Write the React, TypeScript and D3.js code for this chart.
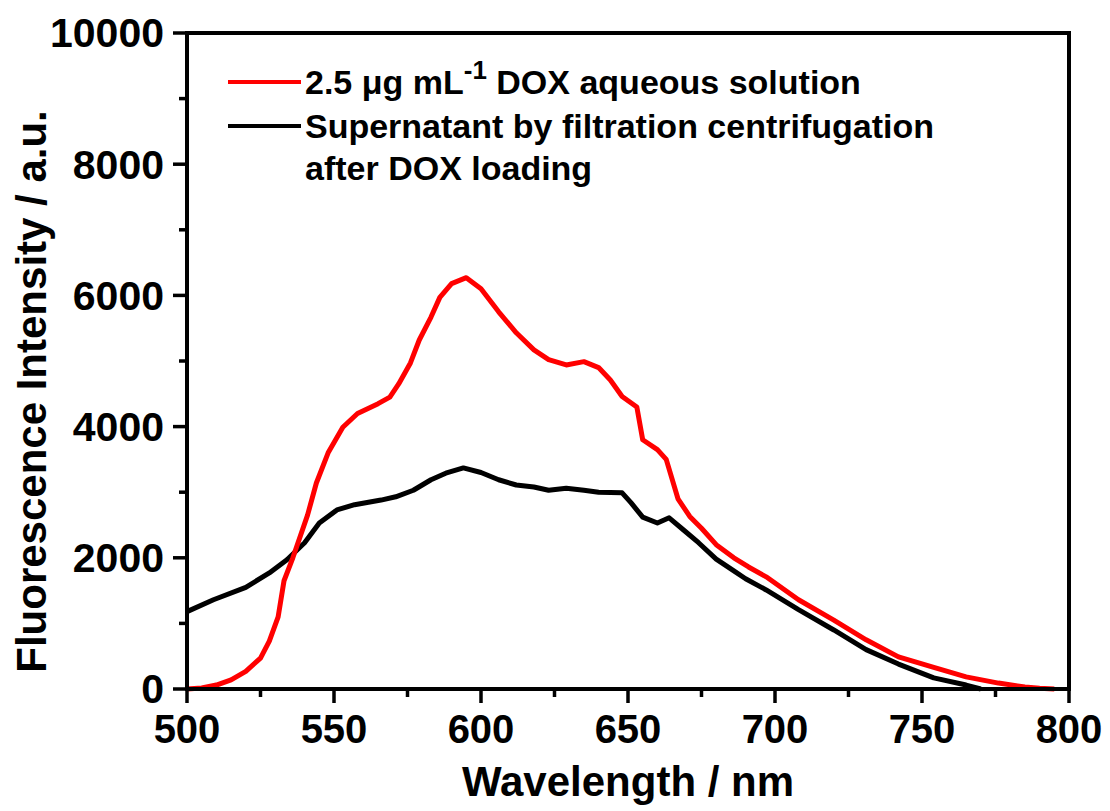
import React from "react";
import * as d3 from "d3";

const redWavelengths = [500,505,510,515,520,525,528,531,533,536,541,544,548,553,558,565,569,572,576,579,583,586,590,595,600,606,612,618,623,629,635,640,644,648,653,655,660,663,667,671,675,680,686,691,697,708,720,731,742,754,765,776,785,790,795];
const redIntensity = [0,15,60,140,270,470,730,1100,1650,2000,2650,3140,3600,3990,4200,4350,4450,4650,4970,5320,5670,5970,6180,6270,6100,5750,5430,5170,5020,4940,4990,4900,4710,4460,4300,3800,3650,3500,2900,2630,2450,2200,2000,1860,1710,1360,1050,750,490,330,185,90,30,10,0];

const blackWavelengths = [500,509,520,528,534,540,545,551,557,566,571,577,583,588,594,600,606,612,618,623,629,635,640,648,651,655,660,664,669,674,680,686,690,697,708,720,731,742,754,765,770];
const blackIntensity = [1180,1360,1550,1770,1970,2230,2530,2730,2810,2880,2930,3030,3190,3290,3370,3300,3190,3110,3080,3030,3060,3030,3000,2990,2840,2620,2530,2610,2420,2230,1980,1800,1680,1510,1210,900,600,380,170,60,0];

const xMajorTicks = [500,550,600,650,700,750,800];
const xMinorTicks = [525,575,625,675,725,775];
const yMajorTicks = [0,2000,4000,6000,8000,10000];
const yMinorTicks = [1000,3000,5000,7000,9000];

const legendLabels = ["2.5 \u03bcg mL", "Supernatant by filtration centrifugation", "after DOX loading"];

const FONT = "'Liberation Sans', Arial, Helvetica, sans-serif";

export default function App() {
  const left = 187, right = 1069, top = 33, bottom = 689;
  const x = d3.scaleLinear().domain([500, 800]).range([left, right]);
  const y = d3.scaleLinear().domain([0, 10000]).range([bottom, top]);
  const line = d3.line<[number, number]>().x(d => x(d[0])).y(d => y(d[1]));
  const redPts = redWavelengths.map((w, i) => [w, redIntensity[i]] as [number, number]);
  const blackPts = blackWavelengths.map((w, i) => [w, blackIntensity[i]] as [number, number]);

  return (
    <svg width={1110} height={811} style={{ position: "absolute", left: 0, top: 0, background: "#fff" }} fontFamily={FONT} fontWeight="bold">
      <rect x={0} y={0} width={1110} height={811} fill="#fff" />
      {/* data */}
      <path d={line(blackPts) || ""} fill="none" stroke="#000" strokeWidth={5} strokeLinejoin="round" />
      <path d={line(redPts) || ""} fill="none" stroke="#ff0000" strokeWidth={5} strokeLinejoin="round" />
      {/* frame */}
      <rect x={left} y={top} width={right - left} height={bottom - top} fill="none" stroke="#000" strokeWidth={4} />
      {/* x ticks */}
      {xMajorTicks.map(t => (
        <g key={"xm" + t}>
          <line x1={x(t)} x2={x(t)} y1={bottom} y2={bottom + 14} stroke="#000" strokeWidth={3.5} />
          <text x={x(t)} y={743} textAnchor="middle" fontSize={40}>{t}</text>
        </g>
      ))}
      {xMinorTicks.map(t => (
        <line key={"xn" + t} x1={x(t)} x2={x(t)} y1={bottom} y2={bottom + 8} stroke="#000" strokeWidth={3.5} />
      ))}
      {/* y ticks */}
      {yMajorTicks.map(t => (
        <g key={"ym" + t}>
          <line x1={left} x2={left - 14} y1={y(t)} y2={y(t)} stroke="#000" strokeWidth={3.5} />
          <text x={164} y={y(t)} dy="0.35em" textAnchor="end" fontSize={41}>{t}</text>
        </g>
      ))}
      {yMinorTicks.map(t => (
        <line key={"yn" + t} x1={left} x2={left - 8} y1={y(t)} y2={y(t)} stroke="#000" strokeWidth={3.5} />
      ))}
      {/* axis titles */}
      <text x={(left + right) / 2 - 0} y={796} textAnchor="middle" fontSize={42}>Wavelength / nm</text>
      <text transform={`translate(46, ${(102 + 673) / 2 + 4}) rotate(-90)`} textAnchor="middle" fontSize={42}>Fluorescence Intensity / a.u.</text>
      {/* legend */}
      <line x1={228} x2={301} y1={82} y2={82} stroke="#ff0000" strokeWidth={4} />
      <line x1={228} x2={301} y1={126} y2={126} stroke="#000" strokeWidth={4} />
      <text x={305} y={94} fontSize={34}>
        {legendLabels[0]}
        <tspan dy={-15} fontSize={26}>-1</tspan>
        <tspan dy={15}> DOX aqueous solution</tspan>
      </text>
      <text x={305} y={138} fontSize={34}>{legendLabels[1]}</text>
      <text x={305} y={180} fontSize={34}>{legendLabels[2]}</text>
    </svg>
  );
}
